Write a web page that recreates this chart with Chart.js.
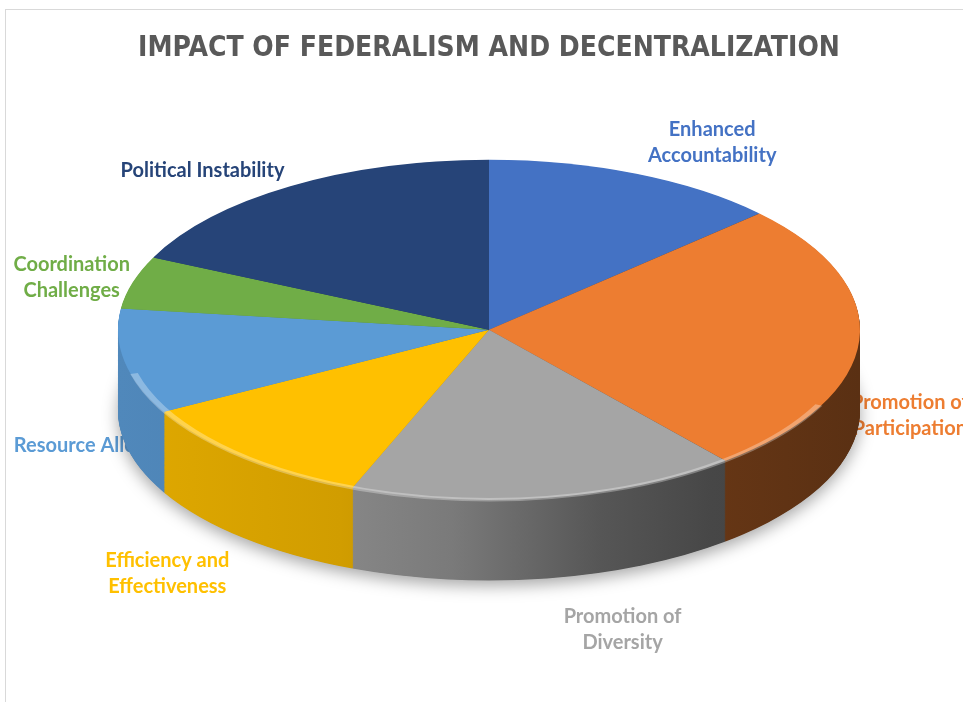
<!DOCTYPE html>
<html>
<head>
<meta charset="utf-8">
<script src="https://cdn.jsdelivr.net/npm/chart.js@4.4.1/dist/chart.umd.min.js"></script>
<style>
  html, body { margin: 0; padding: 0; background: #fff; }
</style>
</head>
<body>
<canvas id="myChart" width="963" height="702"></canvas>
<script>
// chart data
const categories = [
  "Enhanced Accountability",
  "Promotion of Participation",
  "Promotion of Diversity",
  "Efficiency and Effectiveness",
  "Resource Allocation",
  "Coordination Challenges",
  "Political Instability",
];
const values = [13, 26, 17, 11, 10, 5, 18];
const sliceColors = ["#4472C4", "#ED7D31", "#A5A5A5", "#FFC000", "#5B9BD5", "#70AD47", "#264478"];

// words on the first line of each data label (0 = no wrap)
const wrapAfter = [1, 2, 2, 2, 0, 1, 0];
// small nudges for the data labels, in px
const labelNudge = [[39, 8], [-42, 67], [61, 11], [-15, 24], [69, 61], [28, 7], [-38, 20]];

const RX = 371, RY = 170, DEPTH = 80; // on-screen ellipse radii and side height
const LABEL_K = 1.25;

function shade(hex, f) {
  const n = parseInt(hex.slice(1), 16);
  const r = Math.round(((n >> 16) & 255) * f);
  const g = Math.round(((n >> 8) & 255) * f);
  const b = Math.round((n & 255) * f);
  return `rgb(${r},${g},${b})`;
}

function wrapLabel(i) {
  const words = categories[i].split(" ");
  if (!wrapAfter[i]) return [categories[i]];
  return [words.slice(0, wrapAfter[i]).join(" "), words.slice(wrapAfter[i]).join(" ")];
}

function drawLabels(ctx, arcs, cx, cy) {
  ctx.save();
  ctx.font = "bold 20px Lato";
  ctx.textAlign = "center";
  ctx.textBaseline = "middle";
  arcs.forEach((a, i) => {
    const mid = (a.startAngle + a.endAngle) / 2;
    const x = cx + RX * LABEL_K * Math.cos(mid) + labelNudge[i][0];
    const y = cy + RY * LABEL_K * Math.sin(mid) + DEPTH * Math.max(0, Math.sin(mid)) + labelNudge[i][1];
    const lines = wrapLabel(i);
    ctx.fillStyle = sliceColors[i];
    lines.forEach((ln, j) => ctx.fillText(ln, x, y + (j - (lines.length - 1) / 2) * 26));
  });
  ctx.restore();
}

const pie3d = {
  id: "pie3d",
  beforeDraw(chart) {
    const ctx = chart.ctx;
    ctx.save();
    ctx.fillStyle = "#fff";
    ctx.fillRect(0, 0, chart.width, chart.height);
    ctx.strokeStyle = "#d9d9d9";
    ctx.lineWidth = 1;
    ctx.strokeRect(5.5, 9.5, 1200, 1200);
    ctx.restore();
  },
  beforeDatasetsDraw(chart) {
    const ctx = chart.ctx;
    const arcs = chart.getDatasetMeta(0).data;
    const cx = arcs[0].x, cy = arcs[0].y, r = arcs[0].outerRadius;
    const sx = RX / r, sy = RY / r;

    drawLabels(ctx, arcs, cx, cy);

    ctx.save();
    ctx.translate(cx, cy);
    ctx.scale(sx, sy);
    ctx.translate(-cx, -cy);
    const d = DEPTH / sy;

    // soft shadow under the pie
    ctx.save();
    ctx.shadowColor = "rgba(0,0,0,0.35)";
    ctx.shadowBlur = 16;
    ctx.shadowOffsetY = 6;
    ctx.fillStyle = "#777";
    ctx.beginPath();
    ctx.arc(cx, cy + d, r, 0, Math.PI * 2);
    ctx.fill();
    ctx.restore();

    // side walls
    const grads = arcs.map((a, i) => {
      const g = ctx.createLinearGradient(cx - r, 0, cx + r, 0);
      const c = sliceColors[i];
      g.addColorStop(0, shade(c, 0.88));
      g.addColorStop(0.3, shade(c, 0.82));
      g.addColorStop(0.45, shade(c, 0.74));
      g.addColorStop(0.65, shade(c, 0.52));
      g.addColorStop(0.8, shade(c, 0.43));
      g.addColorStop(1, shade(c, 0.38));
      return g;
    });
    for (let k = Math.ceil(d); k >= 1; k--) {
      arcs.forEach((a, i) => {
        ctx.fillStyle = grads[i];
        ctx.beginPath();
        ctx.moveTo(a.x, a.y + k);
        ctx.arc(a.x, a.y + k, r, a.startAngle, a.endAngle);
        ctx.closePath();
        ctx.fill();
      });
    }
  },
  afterDatasetsDraw(chart) {
    const ctx = chart.ctx;
    const arcs = chart.getDatasetMeta(0).data;
    const cx = arcs[0].x, cy = arcs[0].y, r = arcs[0].outerRadius;
    // light bevel on the front rim
    ctx.save();
    ctx.strokeStyle = "rgba(255,255,255,0.3)";
    ctx.lineWidth = 5;
    ctx.beginPath();
    ctx.arc(cx, cy + 3, r - 3, 0.45, Math.PI - 0.25);
    ctx.stroke();
    ctx.restore();
    ctx.restore();
  },
};

const ctx = document.getElementById("myChart").getContext("2d");
const myChart = new Chart(ctx, {
  type: "pie",
  data: {
    labels: categories,
    datasets: [
      {
        data: values,
        backgroundColor: sliceColors,
        borderWidth: 0,
        clip: false,
      },
    ],
  },
  options: {
    responsive: false,
    animation: false,
    layout: { padding: { top: 10, bottom: 132, left: 30, right: 15 } },
    plugins: {
      legend: { display: false },
      tooltip: { enabled: false },
      title: {
        display: true,
        text: "IMPACT OF FEDERALISM AND DECENTRALIZATION",
        color: "#595959",
        font: { family: "DejaVu Sans Condensed", size: 28, weight: "bold" },
        padding: { top: 22, bottom: 24 },
      },
    },
  },
  plugins: [pie3d],
});
</script>
</body>
</html>
